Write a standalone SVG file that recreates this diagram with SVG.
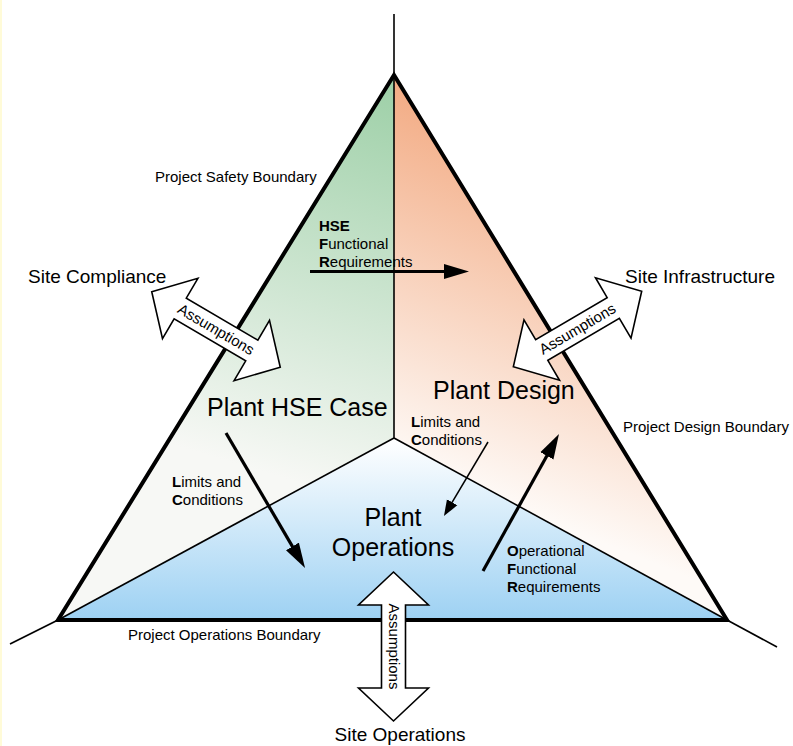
<svg xmlns="http://www.w3.org/2000/svg" width="793" height="746" viewBox="0 0 793 746">
<style>
text{font-family:"Liberation Sans",Arial,sans-serif;fill:#000}
.s{font-size:15px}
.m{font-size:19px}
.l{font-size:25px}
.b{font-weight:bold}
.thick{stroke:#000;stroke-width:4;fill:none;stroke-linejoin:miter}
.thin{stroke:#000;stroke-width:1.6;fill:none}
.arr{stroke:#000;stroke-width:3.2;fill:none}
.arrThin{stroke:#000;stroke-width:1.5;fill:none}
.block{fill:#fff;stroke:#000;stroke-width:1.6;stroke-linejoin:miter}
</style>
<defs>
<linearGradient id="gGreen" gradientUnits="userSpaceOnUse" x1="410" y1="80" x2="290" y2="480">
<stop offset="0" stop-color="#9ccfa6"/>
<stop offset="1" stop-color="#f7f8f5"/>
</linearGradient>
<linearGradient id="gOrange" gradientUnits="userSpaceOnUse" x1="560" y1="120" x2="420" y2="470">
<stop offset="0" stop-color="#f2a67c"/>
<stop offset="1" stop-color="#fefaf7"/>
</linearGradient>
<linearGradient id="gBlue" gradientUnits="userSpaceOnUse" x1="0" y1="440" x2="0" y2="620">
<stop offset="0" stop-color="#ffffff"/>
<stop offset="1" stop-color="#9dd1f3"/>
</linearGradient>
<marker id="head" markerUnits="userSpaceOnUse" markerWidth="26" markerHeight="16" viewBox="0 -8 26 16" refX="17" refY="0" orient="auto">
<path d="M0,-7.5 L25,0 L0,7.5 Z" fill="#000"/>
</marker>
<marker id="headThin" markerUnits="userSpaceOnUse" markerWidth="18" markerHeight="14" viewBox="0 -7 18 14" refX="12" refY="0" orient="auto">
<path d="M0,-6 L16,0 L0,6 Z" fill="#000"/>
</marker>
<path id="dblArrow" d="M-74.5,0 L-41.5,-35 L-41.5,-12 L41.5,-12 L41.5,-35 L74.5,0 L41.5,35 L41.5,12 L-41.5,12 L-41.5,35 Z"/>
</defs>
<rect x="0" y="0" width="793" height="746" fill="#fff"/>
<rect x="0" y="0" width="2" height="746" fill="#fffbd8"/>

<g id="region-hse-case">
<polygon points="394,75 394,438 58,620" fill="url(#gGreen)"/>
</g>
<g id="region-plant-design">
<polygon points="394,75 727,620 394,438" fill="url(#gOrange)"/>
</g>
<g id="region-plant-operations">
<polygon points="394,438 727,620 58,620" fill="url(#gBlue)"/>
</g>

<g id="boundaries">
<line class="thin" x1="394" y1="75" x2="394" y2="438"/>
<line class="thin" x1="394" y1="438" x2="58" y2="620"/>
<line class="thin" x1="394" y1="438" x2="727" y2="620"/>
<line class="thin" x1="394" y1="14" x2="394" y2="75"/>
<line class="thin" x1="58" y1="620" x2="10" y2="644"/>
<line class="thin" x1="727" y1="620" x2="777" y2="647"/>
<polygon class="thick" points="394,75 727,620 58,620"/>
</g>

<g id="connectors">
<line class="arr" x1="310" y1="271.5" x2="461" y2="271.5" marker-end="url(#head)"/>
<line class="arr" x1="226" y1="433" x2="301" y2="561.1" marker-end="url(#head)"/>
<line class="arr" x1="483" y1="571" x2="555.1" y2="441" marker-end="url(#head)"/>
<line class="arrThin" x1="488" y1="442" x2="446" y2="512.6" marker-end="url(#headThin)"/>
<g id="assumptions-compliance" transform="translate(216,329.5) rotate(30.4)">
<use href="#dblArrow" class="block"/>
<text class="s" x="0" y="5" text-anchor="middle">Assumptions</text>
</g>
<g id="assumptions-infrastructure" transform="translate(577.5,329) rotate(-30.5)">
<use href="#dblArrow" class="block"/>
<text class="s" x="0" y="5" text-anchor="middle">Assumptions</text>
</g>
<g id="assumptions-operations" transform="translate(393.5,646.5) rotate(90)">
<use href="#dblArrow" class="block"/>
<text class="s" x="0" y="5" text-anchor="middle">Assumptions</text>
</g>
</g>

<g id="labels">
<g id="hse-fr"><text class="s" x="319" y="231"><tspan class="b">HSE</tspan><tspan x="319" dy="18"><tspan class="b">F</tspan>unctional</tspan><tspan x="319" dy="18"><tspan class="b">R</tspan>equirements</tspan></text></g>
<g id="lc-left"><text class="s" x="172" y="487"><tspan class="b">L</tspan>imits and<tspan x="172" dy="18"><tspan class="b">C</tspan>onditions</tspan></text></g>
<g id="lc-right"><text class="s" x="411" y="427"><tspan class="b">L</tspan>imits and<tspan x="411" dy="18"><tspan class="b">C</tspan>onditions</tspan></text></g>
<g id="op-fr"><text class="s" x="507" y="556"><tspan class="b">O</tspan>perational<tspan x="507" dy="18"><tspan class="b">F</tspan>unctional</tspan><tspan x="507" dy="18"><tspan class="b">R</tspan>equirements</tspan></text></g>
</g>

<g id="node-plant-hse-case"><text class="l" x="207" y="416">Plant HSE Case</text></g>
<g id="node-plant-design"><text class="l" x="433" y="399">Plant Design</text></g>
<g id="node-plant-operations"><text class="l" x="393" y="526" text-anchor="middle">Plant<tspan x="393" dy="30">Operations</tspan></text></g>

<g id="node-site-compliance"><text class="m" x="28" y="283">Site Compliance</text></g>
<g id="node-site-infrastructure"><text class="m" x="625" y="283">Site Infrastructure</text></g>
<g id="node-site-operations"><text class="m" x="400" y="741" text-anchor="middle">Site Operations</text></g>

<g id="boundary-labels">
<text class="s" x="155" y="182">Project Safety Boundary</text>
<text class="s" x="623" y="432">Project Design Boundary</text>
<text class="s" x="128" y="640">Project Operations Boundary</text>
</g>
</svg>
